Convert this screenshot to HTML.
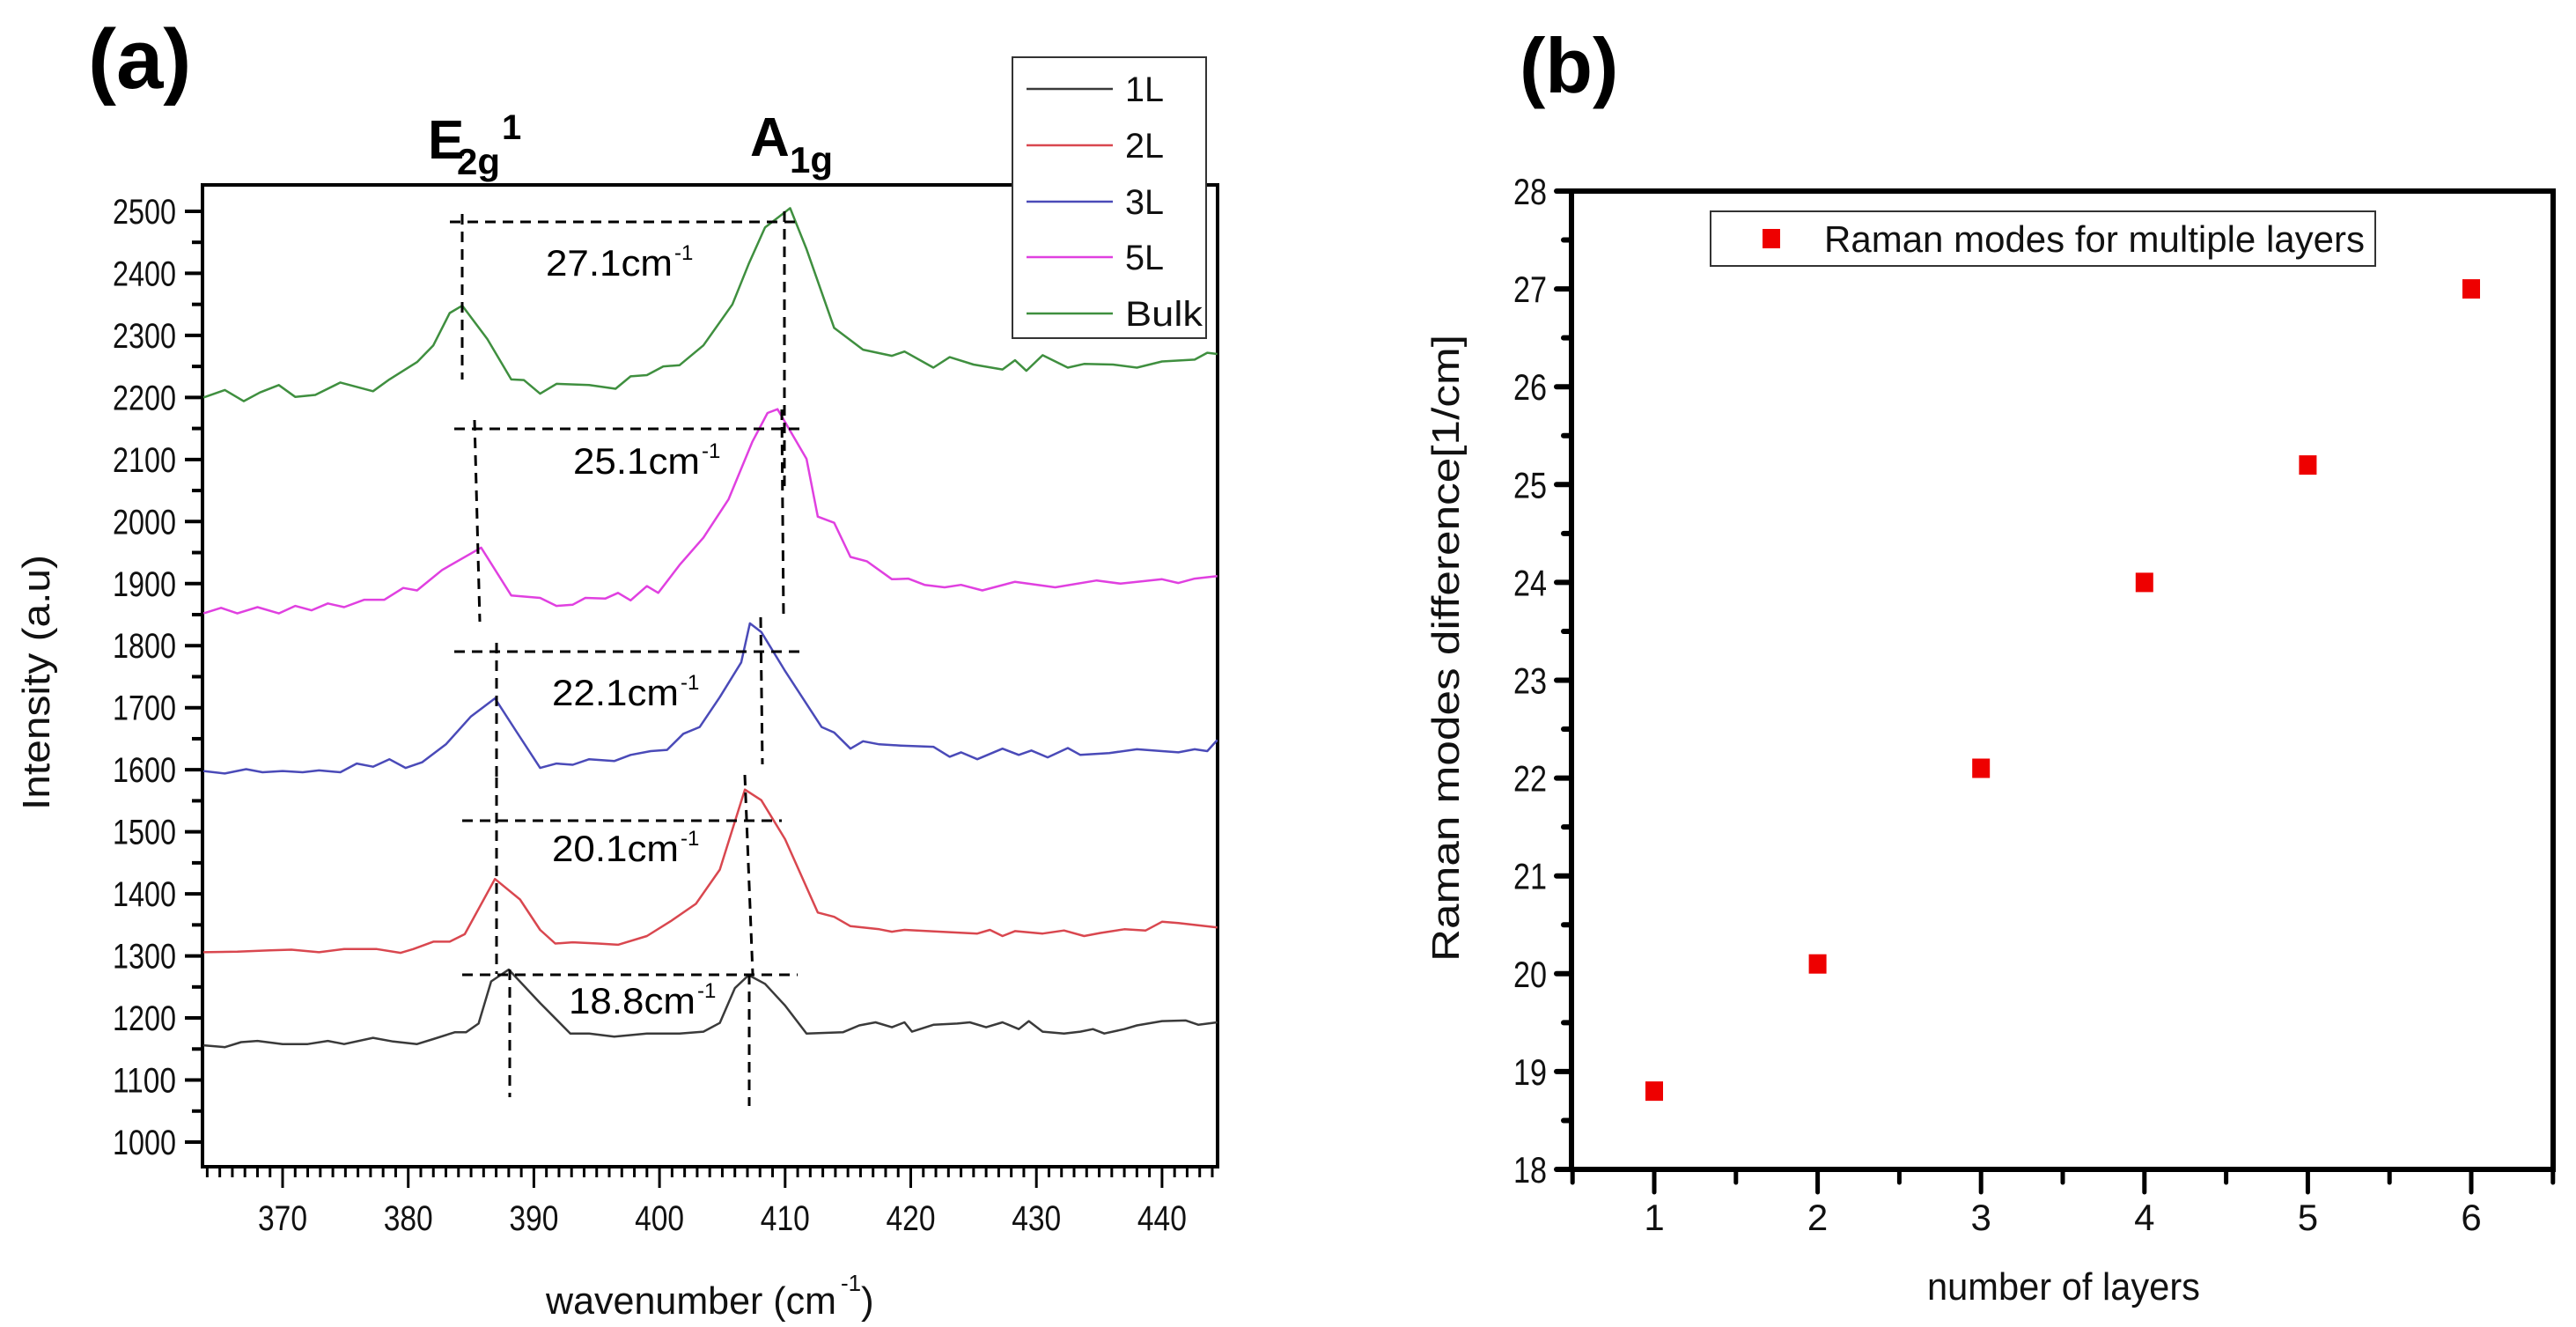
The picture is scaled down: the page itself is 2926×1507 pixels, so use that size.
<!DOCTYPE html>
<html><head><meta charset="utf-8">
<style>
html,body{margin:0;padding:0;background:#fff;}
svg{display:block;font-family:"Liberation Sans",Arial,sans-serif;}
</style></head>
<body>
<svg id="fig" width="2926" height="1507" viewBox="0 0 2926 1507" xmlns="http://www.w3.org/2000/svg">
  <g id="panelA"></g>
  <g id="panelB"></g>
</svg>
<script>
// ---------- Panel (a) data ----------
const wn1L = [363.7,365.4,366.7,368.0,370,372.0,373.6,374.9,377.2,378.8,380.7,382.0,383.7,384.6,385.6,386.6,388.0,390.5,392.9,394.4,396.4,399.0,401.6,403.5,404.8,406.0,407.1,408.4,410.0,411.7,414.6,415.9,417.2,418.5,419.5,420.1,421.8,423.7,424.7,426.0,427.3,428.6,429.4,430.5,432.2,433.5,434.5,435.4,437.0,438.0,440.0,441.9,442.9,444.4];
const int1L = [1156,1153,1161,1163,1158,1158,1163,1158,1168,1162,1158,1166,1177,1177,1191,1259,1278,1224,1175,1175,1170,1175,1175,1178,1192,1248,1269,1255,1220,1175,1177,1188,1193,1185,1193,1178,1189,1191,1193,1185,1193,1182,1195,1178,1175,1178,1182,1175,1182,1188,1195,1196,1189,1193];
const wn2L = [363.7,366.4,369.0,370.7,372.9,374.9,377.5,379.4,380.4,382.0,383.3,384.5,386.9,388.9,390.5,391.7,393.1,395.1,396.7,399.0,400.9,402.9,404.8,406.8,408.1,410.0,412.6,413.9,415.2,417.5,418.5,419.5,422.4,425.3,426.3,427.3,428.3,430.5,432.2,433.8,435.1,437.0,438.7,440.0,441.3,444.4];
const int2L = [1306,1307,1309,1310,1306,1311,1311,1305,1311,1323,1323,1335,1424,1391,1342,1320,1322,1320,1318,1332,1356,1384,1439,1568,1551,1488,1370,1363,1348,1343,1339,1342,1339,1336,1342,1332,1340,1336,1341,1332,1337,1343,1341,1355,1353,1346];
const wn3L = [363.7,365.4,367.1,368.4,370,371.6,372.9,374.6,375.9,377.2,378.5,379.8,381.1,383.0,385.0,386.9,388.6,390.5,391.8,393.1,394.4,396.4,397.7,399.3,400.6,401.9,403.2,404.8,406.5,407.2,408.1,410.0,412.0,412.9,413.9,415.2,416.2,417.5,419.2,421.8,423.1,424.0,425.3,427.3,428.6,429.6,430.9,432.5,433.5,435.8,438.0,440.0,441.3,442.6,443.6,444.4];
const int3L = [1598,1594,1601,1596,1598,1596,1599,1596,1610,1605,1617,1603,1612,1641,1686,1715,1662,1603,1610,1608,1617,1614,1624,1630,1632,1658,1669,1717,1773,1836,1822,1759,1697,1669,1660,1634,1646,1641,1639,1637,1621,1628,1617,1634,1624,1631,1620,1635,1624,1627,1633,1630,1628,1633,1630,1648];
const wn5L = [363.7,365.1,366.4,368.0,369.7,371.0,372.3,373.6,374.9,376.5,378.1,379.6,380.7,382.7,385.8,388.2,390.5,391.8,393.1,394.1,395.7,396.7,397.7,399.0,399.9,401.6,403.5,405.5,407.4,408.6,409.4,411.7,412.6,413.9,415.2,416.5,418.5,419.8,421.1,422.7,424.0,425.7,428.3,431.5,434.8,436.7,440.0,441.3,442.6,444.4];
const int5L = [1852,1861,1852,1862,1852,1864,1857,1868,1862,1874,1874,1893,1889,1922,1958,1881,1877,1864,1866,1877,1876,1885,1873,1896,1885,1930,1974,2036,2129,2175,2181,2101,2008,1998,1943,1936,1907,1908,1898,1894,1898,1889,1903,1894,1905,1900,1907,1901,1908,1912];
const wnBulk = [363.7,365.4,366.9,368.2,369.7,371.0,372.6,374.6,377.2,378.5,380.7,382.0,383.3,384.3,386.3,388.2,389.2,390.5,391.8,394.4,396.5,397.7,399.0,400.3,401.6,403.5,405.8,407.1,408.4,410.4,411.7,413.9,416.2,418.5,419.5,421.8,423.1,425.0,427.3,428.3,429.2,430.5,432.5,433.8,436.1,438.0,440.0,442.6,443.6,444.4];
const intBulk = [2200,2212,2194,2208,2220,2201,2204,2224,2210,2229,2257,2284,2336,2348,2294,2229,2228,2206,2222,2220,2214,2234,2236,2250,2252,2284,2350,2415,2474,2505,2439,2312,2277,2267,2274,2248,2265,2253,2245,2260,2243,2268,2248,2254,2253,2248,2258,2261,2272,2270];
const seriesNames = ["1L","2L","3L","5L","Bulk"];
const seriesColors = ["#3a3a3a","#d9474f","#4a4ab8","#e040e0","#3f8f3f"];
const xTicksA = [370,380,390,400,410,420,430,440];
const yTicksA = [1000,1100,1200,1300,1400,1500,1600,1700,1800,1900,2000,2100,2200,2300,2400,2500];
const diffLabels = ["18.8","20.1","22.1","25.1","27.1"];

// ---------- Panel (b) data ----------
const layers = [1,2,3,4,5,6];
const modeDiff = [18.8,20.1,22.1,24.0,25.2,27.0];
const xTicksB = [1,2,3,4,5,6];
const yTicksB = [18,19,20,21,22,23,24,25,26,27,28];

const NS = "http://www.w3.org/2000/svg";
function mk(parent, tag, attrs, text){
  const e = document.createElementNS(NS, tag);
  for (const k in attrs) e.setAttribute(k, attrs[k]);
  if (text !== undefined) e.textContent = text;
  parent.appendChild(e);
  return e;
}

// ===== Panel A =====
const A = document.getElementById('panelA');
const aL=230, aR=1383, aT=210, aB=1325;
const xA = v => 321 + (v-370)*14.27;
const yA = v => 1297 - (v-1000)*0.7047;

let t = mk(A,'text',{x:100,y:100,'font-size':96,'font-weight':'bold','font-family':'"Liberation Sans",sans-serif'},'(a)');



let g = mk(A,'g',{});


mk(g,'text',{x:486,y:180,'font-size':62,'font-weight':'bold'},'E');
mk(g,'text',{x:519,y:198,'font-size':42,'font-weight':'bold'},'2g');
mk(g,'text',{x:570,y:158,'font-size':40,'font-weight':'bold'},'1');
g = mk(A,'g',{});


mk(g,'text',{x:852,y:177,'font-size':62,'font-weight':'bold'},'A');
mk(g,'text',{x:897,y:196,'font-size':42,'font-weight':'bold'},'1g');

let fr = mk(A,'rect',{x:aL,y:aT,width:aR-aL,height:aB-aT,fill:'none',stroke:'#000','stroke-width':4});



for (let v=1000; v<=2500; v+=50){
  const major = v%100===0;
  const ln = mk(A,'line',{x1:aL,x2:aL-(major?20:12),y1:yA(v),y2:yA(v),stroke:'#000','stroke-width':4});
  
  
}
yTicksA.forEach(v=>{
  const tt = mk(A,'text',{x:200,y:yA(v)+14,'font-size':40,'text-anchor':'end',textLength:72,lengthAdjust:'spacingAndGlyphs',fill:'#111'},String(v));
  
  
});
for (let v=364; v<=444; v+=1){
  const major = v%10===0;
  const ln = mk(A,'line',{x1:xA(v),x2:xA(v),y1:aB,y2:aB+(major?24:12),stroke:'#000','stroke-width':3});
  
  
}
xTicksA.forEach(v=>{
  const tt = mk(A,'text',{x:xA(v),y:1397,'font-size':40,'text-anchor':'middle',textLength:56,lengthAdjust:'spacingAndGlyphs',fill:'#111'},String(v));
  
  
});
t = mk(A,'text',{x:620,y:1492,'font-size':44,textLength:330,lengthAdjust:'spacingAndGlyphs',fill:'#111'},'wavenumber (cm');


mk(A,'text',{x:955,y:1466,'font-size':26,fill:'#111'},'-1');
mk(A,'text',{x:978,y:1492,'font-size':44,fill:'#111'},')');
t = mk(A,'text',{x:0,y:0,'font-size':44,'text-anchor':'middle',textLength:290,lengthAdjust:'spacingAndGlyphs',transform:'translate(56,775) rotate(-90)',fill:'#111'},'Intensity (a.u)');



const wnArr = [wn1L,wn2L,wn3L,wn5L,wnBulk];
const intArr = [int1L,int2L,int3L,int5L,intBulk];
wnArr.forEach((xs,i)=>{
  const d = xs.map((x,j)=>(j?'L':'M')+xA(x).toFixed(1)+','+yA(intArr[i][j]).toFixed(1)).join(' ');
  const p = mk(A,'path',{d:d,fill:'none',stroke:seriesColors[i],'stroke-width':2.5,'stroke-linejoin':'round'});
  
  
});

const dashes = [
  [511,252,909,252],[525,243,525,431],[891,240,891,560],
  [516,487,916,487],[539,477,545,706],[888,465,890,701],
  [516,740,916,740],[564,730,564,883],[864,701,866,868],
  [525,932,888,932],[564,883,564,1106],[846,880,855,1106],
  [525,1107,906,1107],[579,1101,579,1246],[851,1106,851,1256]
];
dashes.forEach(dl=>{
  const ln = mk(A,'line',{x1:dl[0],y1:dl[1],x2:dl[2],y2:dl[3],stroke:'#000','stroke-width':3,'stroke-dasharray':'12,8'});
  
  
});
const diffPos = [[646,1151],[627,978],[627,801],[651,538],[620,313]];
diffLabels.forEach((lab,i)=>{
  const gg = mk(A,'g',{});
  
  
  mk(gg,'text',{x:diffPos[i][0],y:diffPos[i][1],'font-size':42,textLength:144,lengthAdjust:'spacingAndGlyphs'},lab+'cm');
  mk(gg,'text',{x:diffPos[i][0]+146,y:diffPos[i][1]-18,'font-size':24},'-1');
});

const lg = mk(A,'g',{});


mk(lg,'rect',{x:1150,y:65,width:220,height:319,fill:'#fff',stroke:'#333','stroke-width':2});
const legY=[101,165,229,292,356];
seriesNames.forEach((n,i)=>{
  const e = mk(lg,'g',{});
  
  
  mk(e,'line',{x1:1166,x2:1264,y1:legY[i],y2:legY[i],stroke:seriesColors[i],'stroke-width':2.5});
  mk(e,'text',{x:1278,y:legY[i]+14,'font-size':40,textLength:n.length*22,lengthAdjust:'spacingAndGlyphs',fill:'#111'},n);
});

// ===== Panel B =====
const B = document.getElementById('panelB');
const bL=1785, bR=2900, bT=217, bB=1328;
const xB = v => 1879 + (v-1)*185.6;
const yB = v => 1328 - (v-18)*111.1;

t = mk(B,'text',{x:1726,y:105,'font-size':88,'font-weight':'bold'},'(b)');



fr = mk(B,'rect',{x:bL,y:bT,width:bR-bL,height:bB-bT,fill:'none',stroke:'#000','stroke-width':6});



for (let v=18; v<=28; v+=0.5){
  const major = v%1===0;
  const ln = mk(B,'line',{x1:bL,x2:bL-(major?17:9),y1:yB(v),y2:yB(v),stroke:'#000','stroke-width':6,'stroke-linecap':'round'});
  
  
}
yTicksB.forEach(v=>{
  const tt = mk(B,'text',{x:1757,y:yB(v)+15,'font-size':42,'text-anchor':'end',textLength:38,lengthAdjust:'spacingAndGlyphs',fill:'#111'},String(v));
  
  
});
for (let v=0.5; v<=6.5; v+=0.5){
  const major = v%1===0;
  const ln = mk(B,'line',{x1:xB(v),x2:xB(v),y1:bB,y2:bB+(major?26:15),stroke:'#000','stroke-width':5,'stroke-linecap':'round'});
  
  
}
xTicksB.forEach(v=>{
  const tt = mk(B,'text',{x:xB(v),y:1397,'font-size':42,'text-anchor':'middle',fill:'#111'},String(v));
  
  
});
t = mk(B,'text',{x:2344,y:1476,'font-size':44,'text-anchor':'middle',textLength:310,lengthAdjust:'spacingAndGlyphs',fill:'#111'},'number of layers');


t = mk(B,'text',{x:0,y:0,'font-size':44,'text-anchor':'middle',textLength:712,lengthAdjust:'spacingAndGlyphs',transform:'translate(1657,736) rotate(-90)',fill:'#111'},'Raman modes difference[1/cm]');



layers.forEach((l,i)=>{
  const r = mk(B,'rect',{x:xB(l)-10,y:yB(modeDiff[i])-11,width:20,height:22,fill:'#ee0000'});
  
  
});

const lb = mk(B,'g',{});


mk(lb,'rect',{x:1943,y:240,width:755,height:62,fill:'#fff',stroke:'#333','stroke-width':2});
mk(lb,'rect',{x:2002,y:260,width:20,height:22,fill:'#ee0000'});
mk(lb,'text',{x:2072,y:286,'font-size':42,textLength:614,lengthAdjust:'spacingAndGlyphs',fill:'#111'},'Raman modes for multiple layers');
</script>
</body></html>
